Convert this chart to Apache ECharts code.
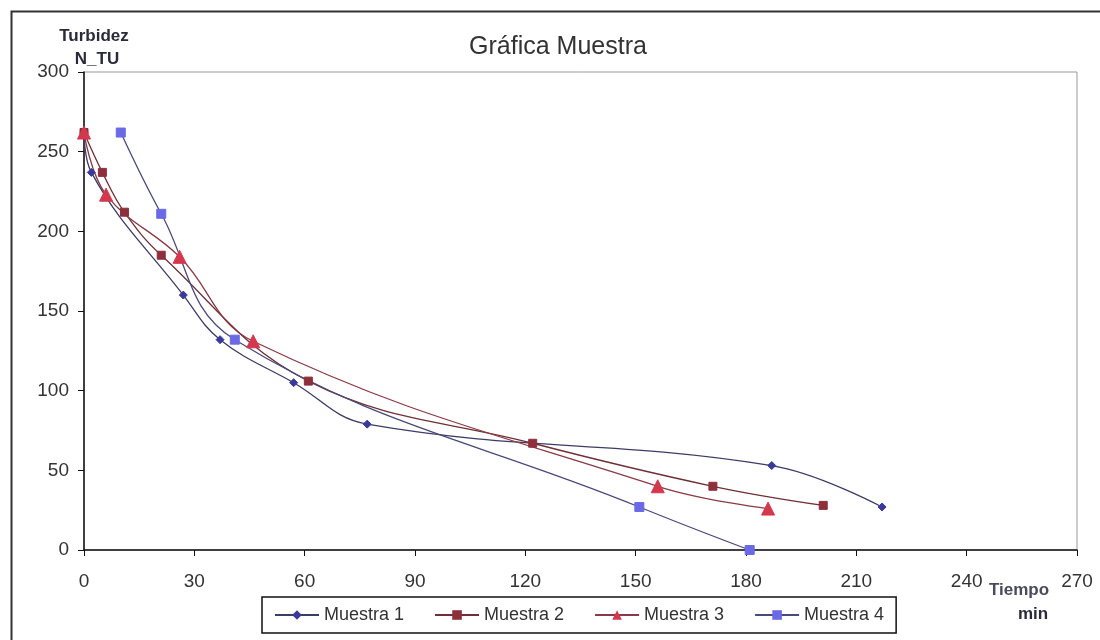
<!DOCTYPE html>
<html>
<head>
<meta charset="utf-8">
<script src="https://cdn.jsdelivr.net/npm/echarts@6/dist/echarts.min.js"></script>
<style>
html,body{margin:0;padding:0;background:#fff;}
#c{width:1100px;height:640px;}
</style>
</head>
<body>
<div id="c"></div>
<script>
const titleText = 'Gráfica Muestra';
const seriesNames = ['Muestra 1', 'Muestra 2', 'Muestra 3', 'Muestra 4'];
const xTicks = [0, 30, 60, 90, 120, 150, 180, 210, 240, 270];
const yTicks = [0, 50, 100, 150, 200, 250, 300];
const muestra1 = [[0, 262], [2, 237], [27, 160], [37, 132], [57, 105], [77, 79], [187, 53], [217, 27]];
const muestra2 = [[0, 262], [5, 237], [11, 212], [21, 185], [61, 106], [122, 67], [171, 40], [201, 28]];
const muestra3 = [[0, 262], [6, 223], [26, 184], [46, 131], [156, 40], [186, 26]];
const muestra4 = [[10, 262], [21, 211], [41, 132], [151, 27], [181, 0]];

const fontFamily = '"Liberation Sans", Arial, sans-serif';
const chart = echarts.init(document.getElementById('c'), null, {renderer: 'canvas'});

function mk(name, data, lineColor, markColor, symbol, size) {
  return {
    name: name, type: 'line', data: data, smooth: 0.4,
    symbol: symbol, symbolSize: size,
    lineStyle: {color: lineColor, width: 1.3},
    itemStyle: {color: markColor, borderColor: markColor},
    z: 3
  };
}

chart.setOption({
  animation: false,
  backgroundColor: '#fff',
  title: {
    text: titleText, left: 553, top: 30, textAlign: 'center',
    textStyle: {fontFamily: fontFamily, fontSize: 25, fontWeight: 'normal', color: '#333'}
  },
  grid: {left: 84, right: 23, top: 72, bottom: 90, show: true, borderColor: '#999', borderWidth: 1},
  legend: {
    data: seriesNames, left: 262, top: 597, orient: 'horizontal',
    itemWidth: 44, itemHeight: 12, itemGap: 30,
    padding: [9, 12], borderColor: '#111', borderWidth: 1.5,
    textStyle: {fontFamily: fontFamily, fontSize: 18, color: '#333'}
  },
  xAxis: {
    type: 'value', min: xTicks[0], max: xTicks[xTicks.length - 1], interval: 30,
    axisLine: {show: true, lineStyle: {color: '#111', width: 1.5}},
    axisTick: {show: true, length: 6, lineStyle: {color: '#111'}},
    splitLine: {show: false},
    axisLabel: {margin: 22, fontFamily: fontFamily, fontSize: 19, color: '#333'}
  },
  yAxis: {
    type: 'value', min: yTicks[0], max: yTicks[yTicks.length - 1], interval: 50,
    axisLine: {show: true, lineStyle: {color: '#111', width: 1.5}},
    axisTick: {show: true, length: 6, lineStyle: {color: '#111'}},
    splitLine: {show: false},
    axisLabel: {margin: 15, fontFamily: fontFamily, fontSize: 19, color: '#333'}
  },
  graphic: [
    {type: 'rect', left: 9, top: 9, shape: {width: 1200, height: 700}, style: {fill: 'none', stroke: '#333', lineWidth: 2}, silent: true, z: -1},
    {type: 'text', x: 94, y: 36, style: {text: 'Turbidez', font: 'bold 17px "Liberation Sans", Arial, sans-serif', fill: '#2a2a3a', textAlign: 'center', textVerticalAlign: 'middle'}},
    {type: 'text', x: 97, y: 59, style: {text: 'N_TU', font: 'bold 17px "Liberation Sans", Arial, sans-serif', fill: '#2a2a3a', textAlign: 'center', textVerticalAlign: 'middle'}},
    {type: 'text', x: 1019, y: 590, style: {text: 'Tiempo', font: 'bold 17px "Liberation Sans", Arial, sans-serif', fill: '#4a4a5a', textAlign: 'center', textVerticalAlign: 'middle'}},
    {type: 'text', x: 1033, y: 614, style: {text: 'min', font: 'bold 17px "Liberation Sans", Arial, sans-serif', fill: '#2a2a3a', textAlign: 'center', textVerticalAlign: 'middle'}}
  ],
  series: [
    mk(seriesNames[0], muestra1, '#3c3c66', '#3a3a9a', 'diamond', 8),
    mk(seriesNames[1], muestra2, '#6e3036', '#8e2f3c', 'rect', 8),
    mk(seriesNames[2], muestra3, '#8a3a44', '#d4384c', 'triangle', 13),
    mk(seriesNames[3], muestra4, '#4a4a7a', '#6a6ae6', 'rect', 9)
  ]
});
</script>
</body>
</html>
